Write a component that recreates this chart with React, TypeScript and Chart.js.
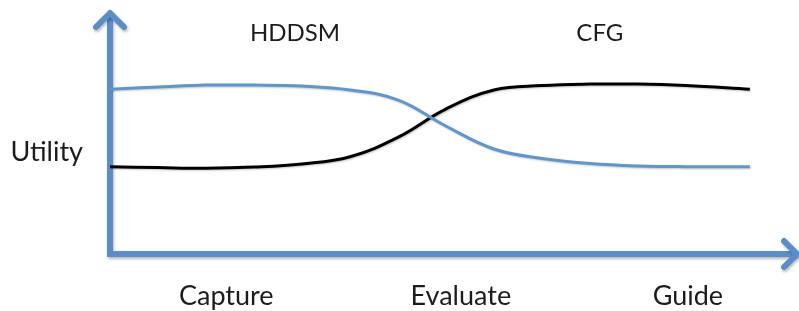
import React, { useEffect, useRef } from "react";
import { Chart, registerables } from "chart.js";

Chart.register(...registerables);

// Shared x positions (0 = y axis, 100 = arrow tip)
const xs = [0, 7.0, 14.0, 20.9, 27.9, 34.9, 41.9, 48.8, 55.8, 62.8, 69.8, 76.7, 83.7, 93.0];
const hddsmValues = [68.1, 69.0, 69.8, 69.8, 69.4, 67.8, 63.6, 52.9, 43.4, 39.5, 37.4, 36.4, 36.1, 36.1];
const cfgValues = [36.1, 35.7, 35.4, 35.9, 37.2, 40.2, 48.3, 59.9, 67.8, 69.6, 70.2, 70.2, 69.6, 68.1];

const stageLabels = ["Capture", "Evaluate", "Guide"];
const stagePositions = [16.9, 51.0, 84.0];
const seriesLabels = ["HDDSM", "CFG"];
const seriesLabelPositions = [26.9, 71.2];
const yTitle = "Utility";

const AXIS_BLUE = "#5b8ec9";
const FONT = "Lato, 'Open Sans', sans-serif";

const decorPlugin = {
  id: "decor",
  beforeDatasetsDraw(chart: any) {
    const { ctx, scales } = chart;
    const x = scales.x;
    const y = scales.y;
    const x0 = x.getPixelForValue(0);
    const x1 = x.getPixelForValue(100);
    const y0 = y.getPixelForValue(0);
    const y1 = y.getPixelForValue(100);
    ctx.save();
    ctx.shadowColor = "rgba(0,0,0,0.28)";
    ctx.shadowBlur = 3;
    ctx.shadowOffsetX = 1;
    ctx.shadowOffsetY = 2;
    ctx.strokeStyle = AXIS_BLUE;
    ctx.lineWidth = 6;
    ctx.lineCap = "round";
    ctx.lineJoin = "miter";
    // axes
    ctx.beginPath();
    ctx.moveTo(x0, y1 + 3);
    ctx.lineTo(x0, y0);
    ctx.lineTo(x1 - 3, y0);
    ctx.stroke();
    ctx.lineJoin = "round";
    // y arrow head
    ctx.beginPath();
    ctx.moveTo(x0 - 14, y1 + 15);
    ctx.lineTo(x0, y1 + 1);
    ctx.lineTo(x0 + 14, y1 + 15);
    ctx.stroke();
    // x arrow head
    ctx.beginPath();
    ctx.moveTo(x1 - 14, y0 - 13);
    ctx.lineTo(x1 - 1, y0);
    ctx.lineTo(x1 - 14, y0 + 13);
    ctx.stroke();
    ctx.restore();

    ctx.save();
    ctx.fillStyle = "#1c1c1c";
    ctx.textAlign = "center";
    ctx.textBaseline = "middle";
    ctx.font = `27px ${FONT}`;
    stageLabels.forEach((t, i) => {
      ctx.fillText(t, x.getPixelForValue(stagePositions[i]), y.getPixelForValue(-17.4));
    });
    ctx.fillText(yTitle, x.getPixelForValue(-9.2), y.getPixelForValue(42));
    ctx.font = `24px ${FONT}`;
    seriesLabels.forEach((t, i) => {
      ctx.fillText(t, x.getPixelForValue(seriesLabelPositions[i]), y.getPixelForValue(91.3));
    });
    ctx.restore();
  },
  beforeDatasetDraw(chart: any) {
    const ctx = chart.ctx;
    ctx.save();
    ctx.shadowColor = "rgba(0,0,0,0.22)";
    ctx.shadowBlur = 2;
    ctx.shadowOffsetX = 1;
    ctx.shadowOffsetY = 1;
  },
  afterDatasetDraw(chart: any) {
    chart.ctx.restore();
  },
};

export default function App() {
  const ref = useRef<HTMLCanvasElement>(null);
  useEffect(() => {
    document.body.style.margin = "0";
    const chart = new Chart(ref.current as HTMLCanvasElement, {
      type: "line",
      data: {
        datasets: [
          {
            label: "HDDSM",
            data: xs.map((x, i) => ({ x, y: hddsmValues[i] })),
            borderColor: "#6196cd",
            borderWidth: 3,
            pointRadius: 0,
            tension: 0.4,
          },
          {
            label: "CFG",
            data: xs.map((x, i) => ({ x, y: cfgValues[i] })),
            borderColor: "#000000",
            borderWidth: 3,
            pointRadius: 0,
            tension: 0.4,
          },
        ],
      },
      options: {
        responsive: false,
        animation: false,
        layout: { padding: { left: 110, right: 1, top: 12, bottom: 57 } },
        plugins: { legend: { display: false }, tooltip: { enabled: false } },
        scales: {
          x: { type: "linear", min: 0, max: 100, display: false },
          y: { type: "linear", min: 0, max: 100, display: false },
        },
      },
      plugins: [decorPlugin],
    } as any);
    return () => chart.destroy();
  }, []);
  return (
    <div style={{ position: "absolute", left: 0, top: 0, width: 799, height: 311, background: "#fff" }}>
      <canvas ref={ref} width={799} height={311} />
    </div>
  );
}
